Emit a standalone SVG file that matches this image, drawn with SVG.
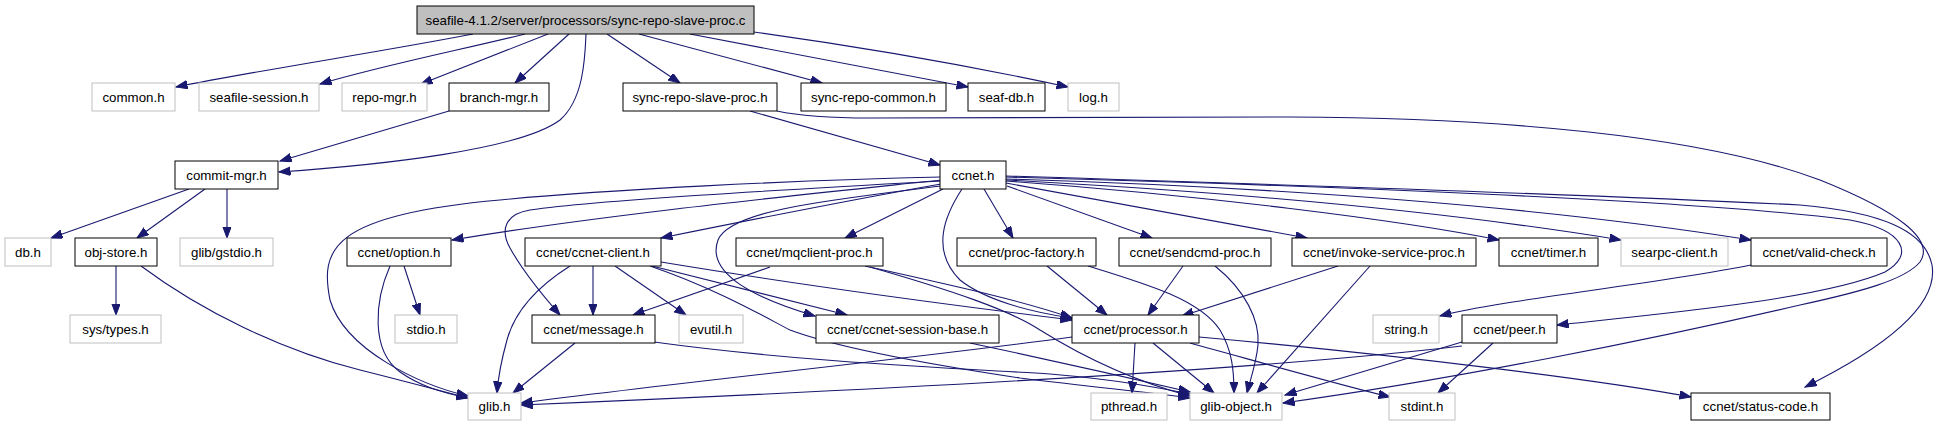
<svg xmlns="http://www.w3.org/2000/svg" width="1938" height="427" viewBox="0 0 1938 427">
<style>
text{font-family:"Liberation Sans",Arial,Helvetica,sans-serif;font-size:13.3px;fill:#000;text-anchor:middle}
.n rect{fill:#fff;stroke:#000;stroke-width:1}
.g rect{fill:#fff;stroke:#bfbfbf;stroke-width:1}
.m rect{fill:#bfbfbf;stroke:#000;stroke-width:1}
#edges path{fill:none;stroke:#191970;stroke-width:1.1;marker-end:url(#ah)}
</style>
<defs>
<marker id="ah" markerUnits="userSpaceOnUse" markerWidth="13" markerHeight="10" refX="11.5" refY="4.25" orient="auto">
<path d="M0,0 L11.5,4.25 L0,8.5 Z" fill="#191970" stroke="#191970" stroke-width="1"/>
</marker>
</defs>
<rect width="1938" height="427" fill="#fff"/>
<g id="edges">
<path d="M473,34 C380,52 260,70 176,87"/>
<path d="M525,34 C460,50 380,66 320,84"/>
<path d="M548,34 L421,84"/>
<path d="M569,34 L515,83"/>
<path d="M586,34 C585,60 583,100 560,120 C520,150 380,165 279,172"/>
<path d="M607,34 L680,83"/>
<path d="M639,34 L822,83"/>
<path d="M690,34 L968,87"/>
<path d="M754,32 C870,48 980,68 1068,87"/>
<path d="M449,111 L280,161"/>
<path d="M750,111 L940,165"/>
<path d="M777,111 C800,116 830,118 870,118 L1290,117 C1500,118 1700,135 1820,180 C1900,212 1935,240 1920,262 C1905,280 1860,292 1800,305 C1650,340 1450,380 1283,403"/>
<path d="M189,189 L51,238"/>
<path d="M205,189 L137,238"/>
<path d="M227,189 L227,238"/>
<path d="M116,266 L116,315"/>
<path d="M141,266 C200,310 280,350 360,370 C400,380 430,388 468,398"/>
<path d="M404,266 L420,315"/>
<path d="M390,266 C375,300 370,350 400,372 C420,386 440,392 468,398"/>
<path d="M941,177 C800,180 600,190 500,200 C330,215 320,250 330,300 C345,350 420,385 468,396"/>
<path d="M941,180 C800,195 600,215 452,240"/>
<path d="M941,181 C780,190 600,200 530,210 C505,214 500,230 510,248 C525,275 545,298 560,315"/>
<path d="M941,184 C850,200 750,220 661,238"/>
<path d="M943,189 L845,238"/>
<path d="M941,186 C830,200 730,210 718,240 C705,275 760,300 815,316"/>
<path d="M962,189 C945,215 930,250 960,280 C985,300 1030,312 1072,318"/>
<path d="M984,189 L1013,238"/>
<path d="M1007,186 L1152,238"/>
<path d="M1006,183 L1307,238"/>
<path d="M1006,181 C1200,195 1400,220 1499,240"/>
<path d="M1006,180 C1250,193 1450,212 1621,240"/>
<path d="M1006,179 C1300,188 1550,208 1751,240"/>
<path d="M1006,177 C1300,185 1700,200 1850,220 C1905,230 1915,255 1885,272 C1820,300 1650,315 1557,325"/>
<path d="M1006,176 C1200,182 1600,195 1800,205 C1880,212 1925,230 1932,265 C1938,300 1900,340 1805,387"/>
<path d="M570,266 C540,285 515,310 507,340 C500,365 498,380 497,393"/>
<path d="M593,266 L593,315"/>
<path d="M615,266 L686,315"/>
<path d="M652,266 L847,315"/>
<path d="M661,262 C800,285 950,305 1072,320"/>
<path d="M650,266 C720,290 770,320 790,330 C830,345 900,360 1020,378 C1100,388 1150,392 1190,398"/>
<path d="M770,267 L633,315"/>
<path d="M865,266 C950,285 1020,300 1072,318"/>
<path d="M870,267 C950,290 1010,310 1040,330 C1080,355 1130,380 1190,396"/>
<path d="M575,343 L513,393"/>
<path d="M654,342 C800,362 950,368 1050,374 C1120,380 1160,388 1190,394"/>
<path d="M970,343 C1050,360 1130,378 1190,392"/>
<path d="M1072,337 C900,360 700,380 521,403"/>
<path d="M1135,343 L1132,393"/>
<path d="M1153,343 L1214,393"/>
<path d="M1190,343 C1270,365 1340,385 1390,397"/>
<path d="M1199,337 C1400,355 1600,380 1691,397"/>
<path d="M1047,266 L1107,315"/>
<path d="M1088,266 C1150,285 1200,300 1220,330 C1232,350 1234,370 1234,393"/>
<path d="M1183,266 L1148,315"/>
<path d="M1215,266 C1245,290 1260,320 1258,345 C1256,365 1250,380 1247,393"/>
<path d="M1338,266 L1182,316"/>
<path d="M1370,266 L1257,393"/>
<path d="M1751,265 C1650,285 1500,300 1440,316"/>
<path d="M1493,343 L1438,393"/>
<path d="M1462,342 L1285,395"/>
<path d="M1462,346 C1300,365 1000,385 521,405"/>
</g>
<g id="main" class="m"><rect x="417" y="6" width="337" height="28"/><text x="585.5" y="24.5">seafile-4.1.2/server/processors/sync-repo-slave-proc.c</text></g>
<g id="common_h" class="g"><rect x="92" y="83" width="83" height="28"/><text x="133.5" y="101.5">common.h</text></g>
<g id="seafile_session_h" class="g"><rect x="199" y="83" width="120" height="28"/><text x="259" y="101.5">seafile-session.h</text></g>
<g id="repo_mgr_h" class="g"><rect x="342" y="83" width="85" height="28"/><text x="384.5" y="101.5">repo-mgr.h</text></g>
<g id="branch_mgr_h" class="n"><rect x="449" y="83" width="100" height="28"/><text x="499" y="101.5">branch-mgr.h</text></g>
<g id="sync_repo_slave_proc_h" class="n"><rect x="623" y="83" width="154" height="28"/><text x="700" y="101.5">sync-repo-slave-proc.h</text></g>
<g id="sync_repo_common_h" class="n"><rect x="801" y="83" width="145" height="28"/><text x="873.5" y="101.5">sync-repo-common.h</text></g>
<g id="seaf_db_h" class="n"><rect x="968" y="83" width="77" height="28"/><text x="1006.5" y="101.5">seaf-db.h</text></g>
<g id="log_h" class="g"><rect x="1068" y="83" width="51" height="28"/><text x="1093.5" y="101.5">log.h</text></g>
<g id="commit_mgr_h" class="n"><rect x="175" y="161" width="103" height="28"/><text x="226.5" y="179.5">commit-mgr.h</text></g>
<g id="ccnet_h" class="n"><rect x="940" y="161" width="66" height="28"/><text x="973" y="179.5">ccnet.h</text></g>
<g id="db_h" class="g"><rect x="5" y="238" width="46" height="28"/><text x="28" y="256.5">db.h</text></g>
<g id="obj_store_h" class="n"><rect x="75" y="238" width="82" height="28"/><text x="116" y="256.5">obj-store.h</text></g>
<g id="glib_gstdio_h" class="g"><rect x="180" y="238" width="93" height="28"/><text x="226.5" y="256.5">glib/gstdio.h</text></g>
<g id="ccnet_option_h" class="n"><rect x="347" y="238" width="104" height="28"/><text x="399" y="256.5">ccnet/option.h</text></g>
<g id="ccnet_ccnet_client_h" class="n"><rect x="525" y="238" width="136" height="28"/><text x="593" y="256.5">ccnet/ccnet-client.h</text></g>
<g id="ccnet_mqclient_proc_h" class="n"><rect x="736" y="238" width="147" height="28"/><text x="809.5" y="256.5">ccnet/mqclient-proc.h</text></g>
<g id="ccnet_proc_factory_h" class="n"><rect x="957" y="238" width="139" height="28"/><text x="1026.5" y="256.5">ccnet/proc-factory.h</text></g>
<g id="ccnet_sendcmd_proc_h" class="n"><rect x="1119" y="238" width="152" height="28"/><text x="1195" y="256.5">ccnet/sendcmd-proc.h</text></g>
<g id="ccnet_invoke_service_proc_h" class="n"><rect x="1292" y="238" width="184" height="28"/><text x="1384" y="256.5">ccnet/invoke-service-proc.h</text></g>
<g id="ccnet_timer_h" class="n"><rect x="1499" y="238" width="99" height="28"/><text x="1548.5" y="256.5">ccnet/timer.h</text></g>
<g id="searpc_client_h" class="g"><rect x="1621" y="238" width="107" height="28"/><text x="1674.5" y="256.5">searpc-client.h</text></g>
<g id="ccnet_valid_check_h" class="n"><rect x="1751" y="238" width="136" height="28"/><text x="1819" y="256.5">ccnet/valid-check.h</text></g>
<g id="sys_types_h" class="g"><rect x="70" y="315" width="91" height="28"/><text x="115.5" y="333.5">sys/types.h</text></g>
<g id="stdio_h" class="g"><rect x="395" y="315" width="62" height="28"/><text x="426" y="333.5">stdio.h</text></g>
<g id="ccnet_message_h" class="n"><rect x="532" y="315" width="123" height="28"/><text x="593.5" y="333.5">ccnet/message.h</text></g>
<g id="evutil_h" class="g"><rect x="679" y="315" width="64" height="28"/><text x="711" y="333.5">evutil.h</text></g>
<g id="ccnet_ccnet_session_base_h" class="n"><rect x="816" y="315" width="183" height="28"/><text x="907.5" y="333.5">ccnet/ccnet-session-base.h</text></g>
<g id="ccnet_processor_h" class="n"><rect x="1072" y="315" width="127" height="28"/><text x="1135.5" y="333.5">ccnet/processor.h</text></g>
<g id="string_h" class="g"><rect x="1373" y="315" width="66" height="28"/><text x="1406" y="333.5">string.h</text></g>
<g id="ccnet_peer_h" class="n"><rect x="1462" y="315" width="95" height="28"/><text x="1509.5" y="333.5">ccnet/peer.h</text></g>
<g id="glib_h" class="g"><rect x="468" y="393" width="53" height="27"/><text x="494.5" y="411">glib.h</text></g>
<g id="pthread_h" class="g"><rect x="1091" y="393" width="76" height="27"/><text x="1129" y="411">pthread.h</text></g>
<g id="glib_object_h" class="g"><rect x="1190" y="393" width="92" height="27"/><text x="1236" y="411">glib-object.h</text></g>
<g id="stdint_h" class="g"><rect x="1389" y="393" width="66" height="27"/><text x="1422" y="411">stdint.h</text></g>
<g id="ccnet_status_code_h" class="n"><rect x="1691" y="393" width="139" height="27"/><text x="1760.5" y="411">ccnet/status-code.h</text></g>
</svg>
